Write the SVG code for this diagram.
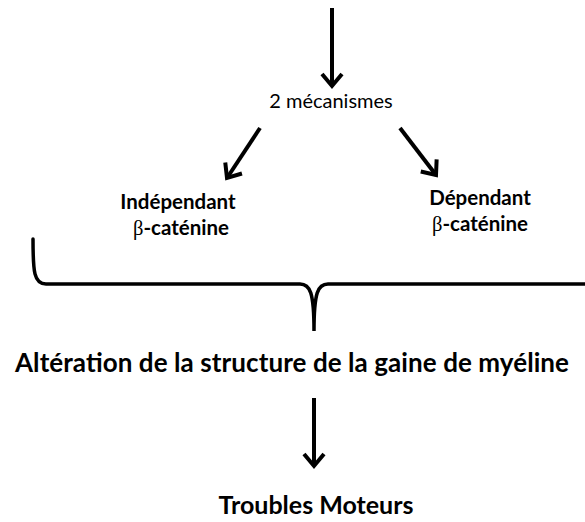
<svg xmlns="http://www.w3.org/2000/svg" width="585" height="522" viewBox="0 0 585 522">
<style>
.t{font-family:Lato,"Liberation Sans",sans-serif;fill:#000}
.b{font-weight:bold}
.beta{font-family:"Liberation Serif",serif;font-weight:normal}
.ln{stroke:#000;stroke-width:4;fill:none}
.br{stroke:#000;stroke-width:3.5;fill:none;stroke-linecap:round}
</style>
<defs>
<marker id="chev" markerUnits="userSpaceOnUse" viewBox="-16 -12 20 24" markerWidth="20" markerHeight="24" refX="0" refY="0" orient="auto">
<polyline points="-12,-10 0,0 -12,10" fill="none" stroke="#000" stroke-width="4"/>
</marker>
</defs>
<g id="connectors">
<line class="ln" x1="332" y1="8" x2="332" y2="86" marker-end="url(#chev)"/>
<line class="ln" x1="260" y1="128" x2="227" y2="178" marker-end="url(#chev)"/>
<line class="ln" x1="400" y1="128" x2="436" y2="175" marker-end="url(#chev)"/>
<path id="bracket" class="br" d="M33,239 C33,272 34,284 46,284 L300,284 C310,284 314,292 314,331 C314,292 318,284 328,284 L586,284"/>
<line class="ln" x1="314" y1="398" x2="314" y2="466" marker-end="url(#chev)"/>
</g>
<g id="n_mecanismes"><text class="t" x="331" y="108" font-size="20" text-anchor="middle">2 mécanismes</text></g>
<g id="n_independant">
<text class="t b" x="178" y="209" font-size="20.5" text-anchor="middle">Indépendant</text>
<text class="t b" x="181" y="235" font-size="20.5" text-anchor="middle"><tspan class="beta">β</tspan>-caténine</text>
</g>
<g id="n_dependant">
<text class="t b" x="480" y="205" font-size="20.5" text-anchor="middle">Dépendant</text>
<text class="t b" x="480" y="231" font-size="20.5" text-anchor="middle"><tspan class="beta">β</tspan>-caténine</text>
</g>
<g id="n_alteration"><text class="t b" x="292" y="372" font-size="26" text-anchor="middle" textLength="554" lengthAdjust="spacing">Altération de la structure de la gaine de myéline</text></g>
<g id="n_troubles"><text class="t b" x="316" y="514" font-size="25" text-anchor="middle">Troubles Moteurs</text></g>
</svg>
